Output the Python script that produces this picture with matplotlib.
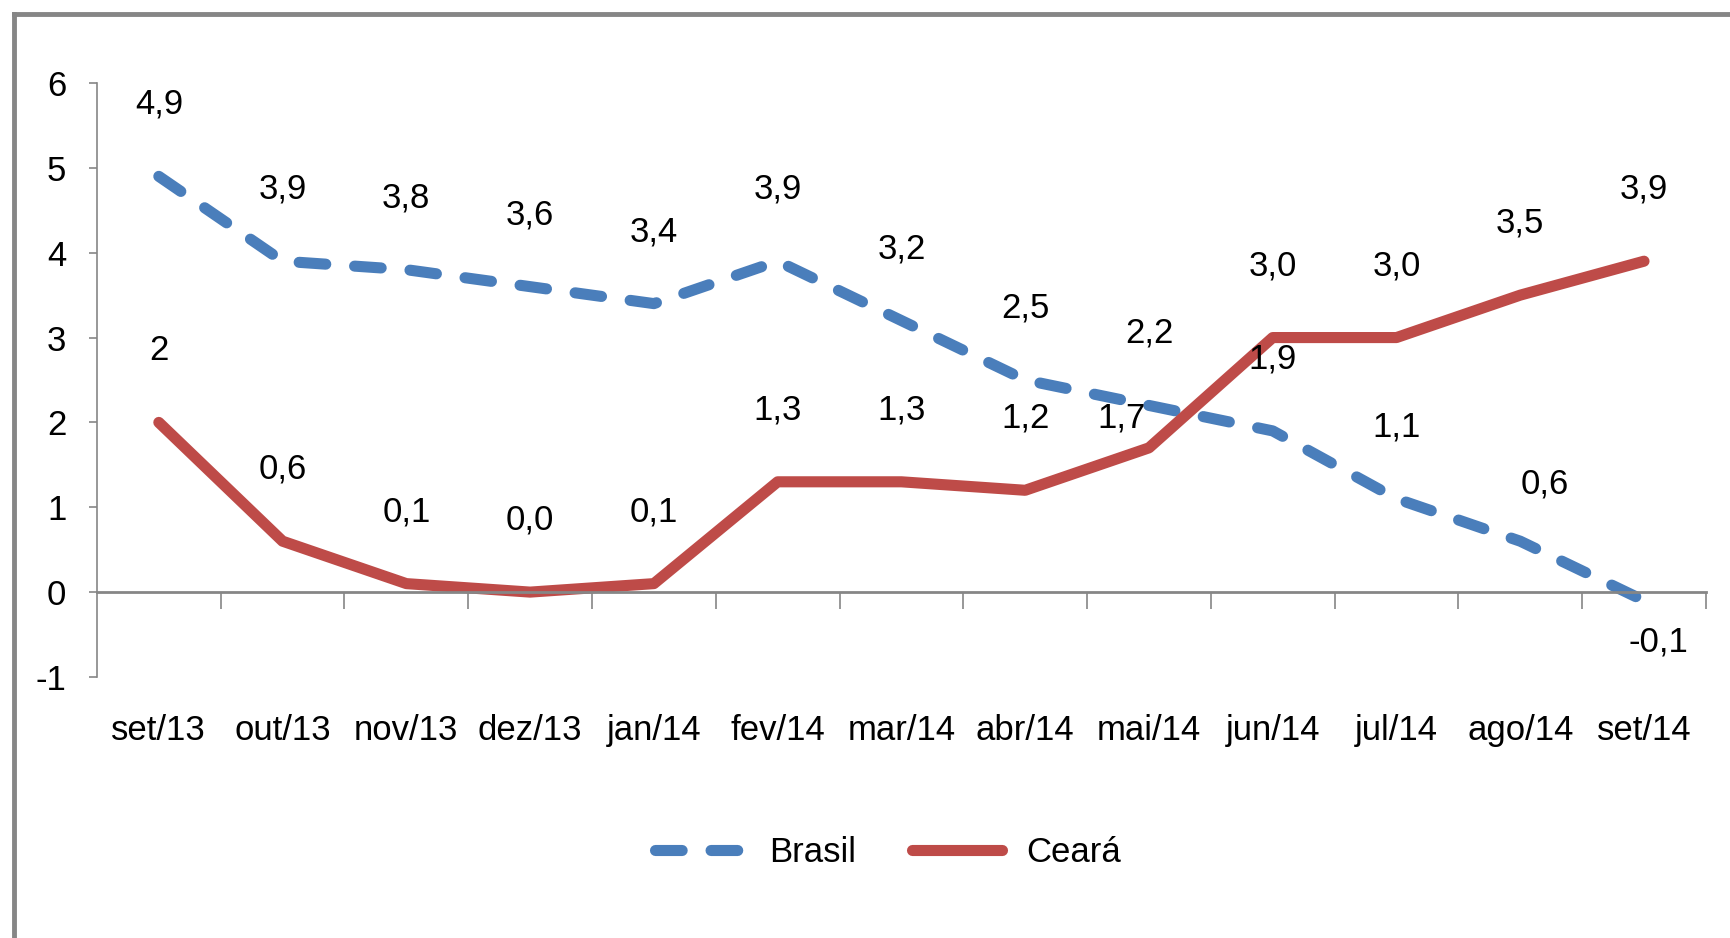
import matplotlib.pyplot as plt
from matplotlib.lines import Line2D

months = ["set/13", "out/13", "nov/13", "dez/13", "jan/14", "fev/14", "mar/14",
          "abr/14", "mai/14", "jun/14", "jul/14", "ago/14", "set/14"]
brasil = [4.9, 3.9, 3.8, 3.6, 3.4, 3.9, 3.2, 2.5, 2.2, 1.9, 1.1, 0.6, -0.1]
ceara = [2.0, 0.6, 0.1, 0.0, 0.1, 1.3, 1.3, 1.2, 1.7, 3.0, 3.0, 3.5, 3.9]
brasil_txt = ["4,9", "3,9", "3,8", "3,6", "3,4", "3,9", "3,2", "2,5", "2,2", "1,9", "1,1", "0,6", "-0,1"]
ceara_txt = ["2", "0,6", "0,1", "0,0", "0,1", "1,3", "1,3", "1,2", "1,7", "3,0", "3,0", "3,5", "3,9"]

blue = "#4A7EBB"
red = "#BE4B48"
gray = "#868686"

plt.rcParams['font.family'] = ['Liberation Sans Narrow', 'Liberation Sans', 'DejaVu Sans']
fs = 25

fig = plt.figure(figsize=(17.31, 9.38), dpi=100)
ax = fig.add_axes([0.056, 0.2783, 0.9295, 0.6332])

x = list(range(len(months)))
ax.plot(x, brasil, color=blue, lw=8, linestyle=(0, (2.4, 2.6)),
        dash_capstyle='round', label="Brasil")
ax.plot(x, ceara, color=red, lw=8, solid_capstyle='round', label="Ceará")

# label offsets in pixels (most sit straight above the point)
up = (0, 72)
brasil_off = {11: (24, 57), 12: (14, -41)}
ceara_off = {8: (-27, 30)}
for i in x:
    ax.annotate(brasil_txt[i], (i, brasil[i]), xytext=brasil_off.get(i, up),
                textcoords='offset pixels', ha='center', va='center', fontsize=fs)
    ax.annotate(ceara_txt[i], (i, ceara[i]), xytext=ceara_off.get(i, up),
                textcoords='offset pixels', ha='center', va='center', fontsize=fs)

ax.set_xlim(-0.5, 12.5)
ax.set_ylim(-1, 6)
ax.set_yticks(range(-1, 7))
ax.set_yticklabels([str(v) for v in range(-1, 7)], fontsize=fs)

ax.spines['top'].set_visible(False)
ax.spines['right'].set_visible(False)
ax.spines['left'].set_color(gray)
ax.spines['left'].set_linewidth(1.2)
ax.spines['bottom'].set_position(('data', 0))
ax.spines['bottom'].set_color(gray)
ax.spines['bottom'].set_linewidth(2)

ax.set_xticks(x)
ax.set_xticklabels(months, fontsize=fs)
ax.set_xticks([v - 0.5 for v in range(1, 14)], minor=True)
ax.tick_params(axis='x', which='major', length=0, pad=88)
ax.tick_params(axis='x', which='minor', length=12, width=1.2, color=gray, direction='out')
ax.tick_params(axis='y', length=6, width=1.2, color=gray, pad=16)

fig.legend(loc='center', bbox_to_anchor=(0.513, 0.091), ncol=2, frameon=False,
           fontsize=fs, handlelength=2.6, handletextpad=0.7, columnspacing=1.6)

# gray frame at top and left
fig.add_artist(Line2D([14 / 1731, 1], [1 - 14 / 938, 1 - 14 / 938], color=gray, lw=3.5,
                      transform=fig.transFigure))
fig.add_artist(Line2D([14 / 1731, 14 / 1731], [0, 1 - 14 / 938], color=gray, lw=3.5,
                      transform=fig.transFigure))

fig.savefig("out.png", dpi=100)
